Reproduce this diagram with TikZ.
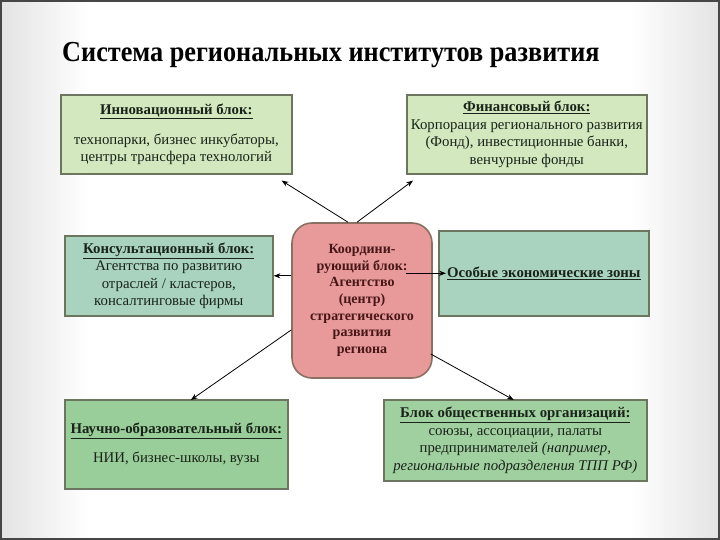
\documentclass[tikz,border=0pt]{standalone}
\usepackage{fontspec}
\setmainfont{Liberation Serif}
\usetikzlibrary{arrows.meta,positioning}
\definecolor{innovgreen}{RGB}{211,232,191}
\definecolor{consultteal}{RGB}{169,211,191}
\definecolor{sciencegreen}{RGB}{153,205,153}
\definecolor{publicgreen}{RGB}{160,208,160}
\definecolor{hubpink}{RGB}{232,154,155}
\definecolor{blockedge}{RGB}{108,118,94}
\definecolor{hubedge}{RGB}{138,112,96}
\definecolor{hubtext}{RGB}{72,22,22}
\definecolor{blocktext}{RGB}{25,35,25}
\newcommand{\blockhead}[1]{\underline{\textbf{#1}}}
\tikzset{
  block/.style={
    draw=blockedge,
    line width=1.6pt,
    rectangle,
    anchor=north west,
    align=center,
    inner sep=0pt,
    text=blocktext,
    font=\fontsize{14.8}{17.5}\selectfont
  },
  hub/.style={
    draw=hubedge,
    fill=hubpink,
    line width=1.6pt,
    rounded corners=20pt,
    minimum width=140pt,
    minimum height=155pt,
    align=center,
    inner sep=0pt,
    text=hubtext,
    font=\bfseries\fontsize{14}{16.7}\selectfont
  },
  line/.style={
    -{Stealth[length=2.4mm,width=1.8mm]},
    line width=0.8pt
  }
}

\begin{document}
\begin{tikzpicture}[x=1pt,y=-1pt]

% frame
\useasboundingbox (0,0) rectangle (720,540);
\fill[white] (0,0) rectangle (720,540);
\shade[left color=gray!22, right color=white] (0,0) rectangle (90,540);
\shade[left color=white, right color=gray!22] (630,0) rectangle (720,540);
\draw[gray!55!black, line width=2pt] (1,1) rectangle (719,539);

\node[anchor=base west, inner sep=0pt, font=\bfseries\fontsize{29}{32}\selectfont] (title) at (62,62)
  {\scalebox{0.905}[1]{Система региональных институтов развития}};

% blocks
\node[hub] (hub) at (362,300.5)
  {Координи-\\рующий блок:\\Агентство\\(центр)\\стратегического\\развития\\региона};

\node[block, fill=innovgreen, minimum width=231pt, minimum height=79pt] (innov) at (60,94)
  {\blockhead{Инновационный блок:}\\[12pt]технопарки, бизнес инкубаторы,\\центры трансфера технологий};
\node[block, fill=innovgreen, minimum width=240pt, minimum height=79pt] (finance) at (406,94)
  {\blockhead{Финансовый блок:}\\Корпорация регионального развития\\(Фонд), инвестиционные банки,\\венчурные фонды};
\node[block, fill=consultteal, minimum width=208pt, minimum height=80pt] (consult) at (64,235)
  {\blockhead{Консультационный блок:}\\Агентства по развитию\\отраслей / кластеров,\\консалтинговые фирмы};
\node[block, fill=consultteal, minimum width=210pt, minimum height=85pt] (sez) at (438,230)
  {\blockhead{Особые экономические зоны}};
\node[block, fill=sciencegreen, minimum width=223pt, minimum height=89pt] (science) at (64,399)
  {\blockhead{Научно-образовательный блок:}\\[12pt]НИИ, бизнес-школы, вузы};
\node[block, fill=publicgreen, minimum width=263pt, minimum height=81pt] (public) at (383,399)
  {\blockhead{Блок общественных организаций:}\\союзы, ассоциации, палаты\\предпринимателей \textit{(например,}\\\textit{региональные подразделения ТПП РФ)}};

% connectors
\draw[line] ([shift={(-14,0)}]hub.north) -- ([shift={(-11,6)}]innov.south east);
\draw[line] ([shift={(-5,0)}]hub.north) -- ([shift={(7,6)}]finance.south west);
\draw[line] (hub.west |- consult.east) -- (consult.east);
\draw[line] ([shift={(-27,0)}]hub.east |- sez.west) -- ([shift={(8,0)}]sez.west);
\draw[line] ([shift={(0,29.5)}]hub.west) -- ([shift={(14.5,1)}]science.north);
\draw[line] ([shift={(-2,53.5)}]hub.east) -- ([shift={(-1.5,1)}]public.north);

\end{tikzpicture}
\end{document}
